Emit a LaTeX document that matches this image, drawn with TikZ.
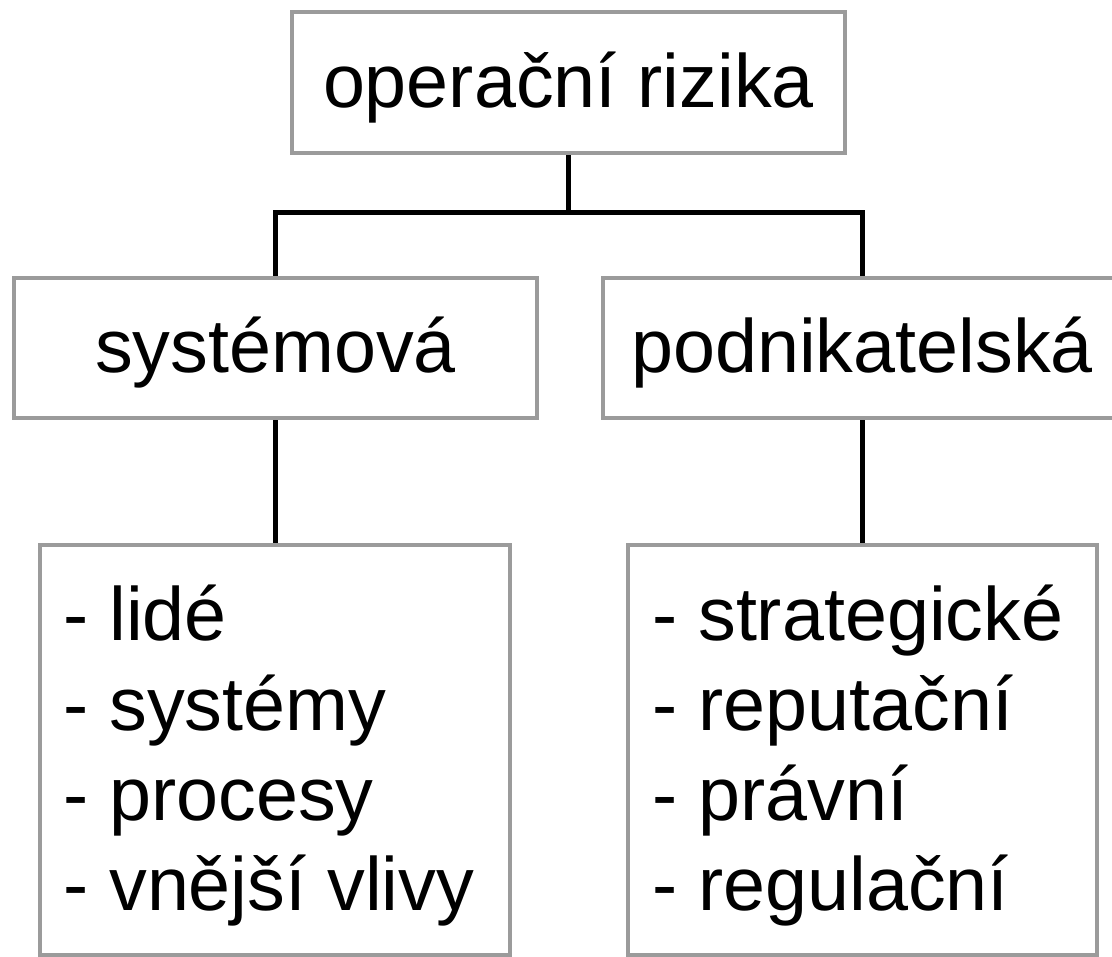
\documentclass[tikz,border=0pt]{standalone}
\usepackage{fontspec}
\setmainfont{Liberation Sans}
\definecolor{boxgray}{RGB}{155,155,155}
\tikzset{
  box/.style={draw=boxgray, line width=4.5pt, rectangle, inner sep=0pt,
    text height=50pt, text depth=0pt},
  link/.style={draw=black, line width=5pt},
  item/.style={anchor=base west, inner sep=0pt},
}
\begin{document}
\begin{tikzpicture}[x=1pt, y=-1pt, font=\fontsize{75.5}{90}\selectfont]
  \useasboundingbox (0,0) rectangle (1112,957);
  \clip (0,0) rectangle (1112,957);

  % hierarchy boxes
  \node[box, minimum width=553pt, minimum height=141pt] (top) at (568.5,82.5) {operační rizika};
  \node[box, minimum width=523pt, minimum height=140pt] (sys) at (275.5,348) {systémová};
  \node[box, minimum width=518pt, minimum height=140pt] (pod) at (862,348) {podnikatelská};
  \node[box, minimum width=470pt, minimum height=410pt] (lst) at (275,750) {};
  \node[box, minimum width=469pt, minimum height=410pt] (rst) at (862.5,750) {};

  % list items
  \node[item] (l1) at (63,640) {- lidé};
  \node[item] (l2) at (63,730) {- systémy};
  \node[item] (l3) at (63,820) {- procesy};
  \node[item] (l4) at (63,910) {- vnější vlivy};
  \node[item] (r1) at (652,640) {- strategické};
  \node[item] (r2) at (652,730) {- reputační};
  \node[item] (r3) at (652,820) {- právní};
  \node[item] (r4) at (652,910) {- regulační};

  % connectors
  \coordinate (j) at (top.south |- 0,213);
  \draw[link] (top.south) -- (j);
  \draw[link] (sys.north) |- (j) -| (pod.north);
  \draw[link] (sys.south) -- (sys.south |- lst.north);
  \draw[link] (pod.south) -- (pod.south |- rst.north);
\end{tikzpicture}
\end{document}
